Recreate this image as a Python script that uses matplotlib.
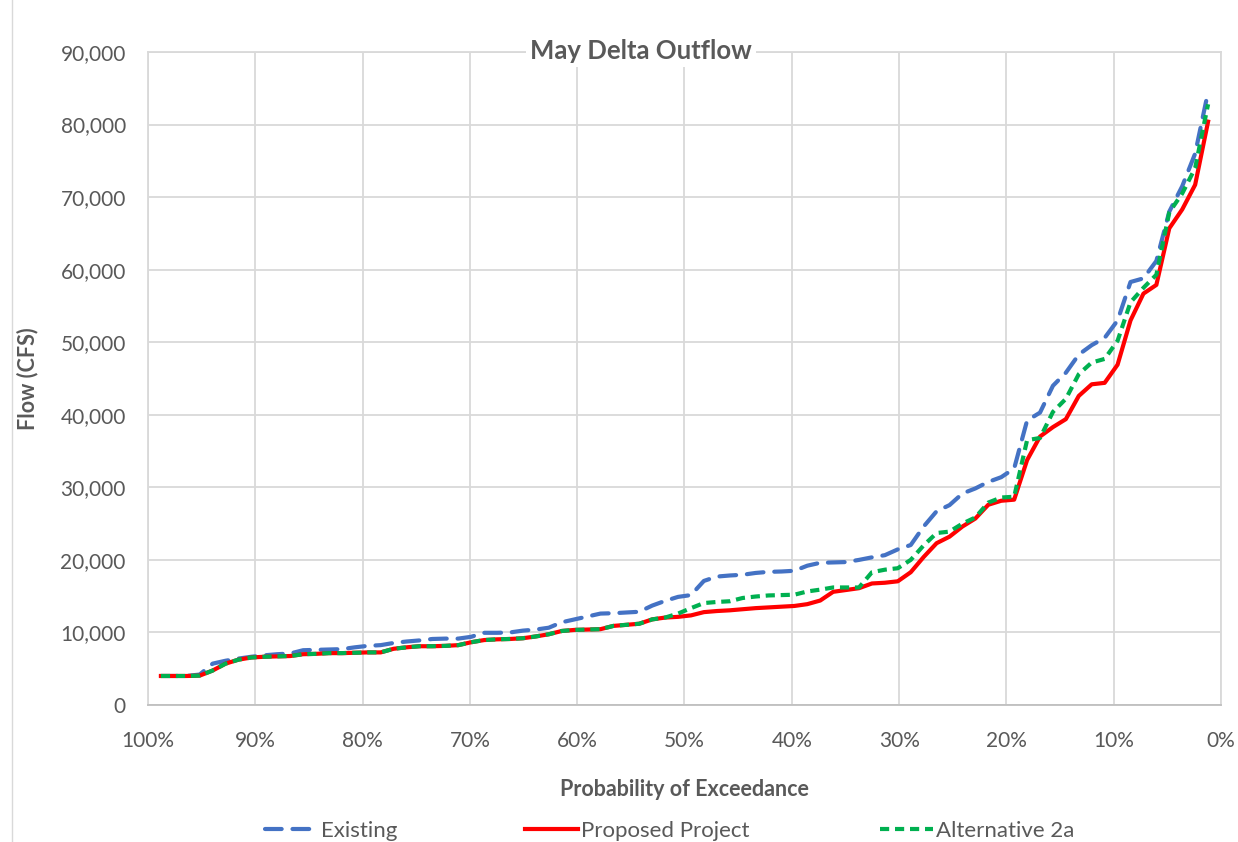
import matplotlib.pyplot as plt
from matplotlib.ticker import FuncFormatter, MultipleLocator
from matplotlib.lines import Line2D

plt.rcParams['font.family'] = ['Lato', 'DejaVu Sans']

# May Delta Outflow (cfs), sorted low -> high
existing = [4000, 4000, 4000, 4200, 5700, 6100, 6400, 6650, 6850, 7000,
            7100, 7550, 7600, 7650, 7700, 7950, 8150, 8250, 8550, 8750,
            8900, 9100, 9150, 9150, 9400, 9950, 9950, 10000, 10250, 10400,
            10650, 11400, 11800, 12200, 12600, 12650, 12750, 12850, 13700, 14350,
            14900, 15150, 17100, 17700, 17850, 17950, 18200, 18350, 18400, 18500,
            19200, 19600, 19650, 19700, 20000, 20350, 20650, 21450, 22050, 24600,
            26700, 27550, 29150, 29850, 30750, 31400, 32600, 39200, 40300, 44000,
            45800, 48300, 49600, 50600, 53000, 58300, 58800, 61200, 68000, 71500,
            76000, 84500]
proposed = [4000, 4000, 4000, 4050, 4750, 5700, 6250, 6550, 6650, 6700,
            6750, 7000, 7050, 7150, 7150, 7200, 7250, 7250, 7750, 7950,
            8100, 8100, 8150, 8250, 8650, 8950, 9050, 9100, 9200, 9450,
            9750, 10200, 10350, 10400, 10450, 10900, 11050, 11200, 11800, 12050,
            12150, 12350, 12800, 12950, 13050, 13200, 13350, 13450, 13550, 13650,
            13900, 14400, 15600, 15850, 16100, 16750, 16850, 17050, 18300, 20400,
            22300, 23200, 24600, 25700, 27600, 28150, 28300, 33750, 37000, 38300,
            39400, 42600, 44200, 44400, 46900, 53000, 56700, 57900, 65700, 68300,
            71700, 80400]
alt2a = [4000, 4000, 4000, 4050, 4750, 5700, 6250, 6550, 6650, 6700,
         6750, 7000, 7050, 7150, 7150, 7200, 7250, 7250, 7750, 7950,
         8100, 8100, 8150, 8250, 8650, 8950, 9050, 9100, 9200, 9450,
         9750, 10200, 10350, 10400, 10450, 10900, 11050, 11200, 11800, 12050,
         12600, 13350, 14050, 14200, 14300, 14750, 14950, 15100, 15150, 15200,
         15650, 15900, 16200, 16200, 16200, 18300, 18650, 18850, 20000, 22000,
         23700, 23900, 25000, 25850, 27900, 28600, 28700, 36500, 36800, 40400,
         42200, 45600, 47200, 47700, 50200, 55500, 57500, 59300, 67900, 70500,
         74000, 82800]


def exceedance(values):
    # plotting position rank/(n+1), highest flow has lowest exceedance
    n = len(values)
    return [100.0 * (n + 1 - r) / (n + 1) for r in range(1, n + 1)]


grey = '#595959'
fig = plt.figure(figsize=(12.38, 8.42), dpi=100)
ax = fig.add_axes([148 / 1238, 1 - 705 / 842, (1221 - 148) / 1238, (705 - 52) / 842])

l1, = ax.plot(exceedance(existing), existing, color='#4472C4', lw=3, dashes=(4, 2.6),
              label='Existing', dash_capstyle='round', zorder=3)
l2, = ax.plot(exceedance(proposed), proposed, color='#FF0000', lw=3,
              label='Proposed Project', zorder=4)
l3, = ax.plot(exceedance(alt2a), alt2a, color='#00B050', lw=3, dashes=(2.2, 1.4),
              label='Alternative 2a', zorder=5)

ax.set_xlim(100, 0)
ax.set_ylim(0, 90000)
ax.xaxis.set_major_locator(MultipleLocator(10))
ax.yaxis.set_major_locator(MultipleLocator(10000))
ax.xaxis.set_major_formatter(FuncFormatter(lambda v, p: '%d%%' % round(v)))
ax.yaxis.set_major_formatter(FuncFormatter(lambda v, p: '{:,.0f}'.format(v)))
ax.grid(True, color='#d9d9d9', lw=1.3)
ax.set_axisbelow(True)
for s in ['top', 'right', 'left']:
    ax.spines[s].set_color('#d9d9d9')
    ax.spines[s].set_linewidth(1.3)
ax.spines['bottom'].set_color('#bfbfbf')
ax.spines['bottom'].set_linewidth(1.3)
ax.tick_params(length=0, labelsize=15, labelcolor=grey)
ax.tick_params(axis='x', pad=19)
ax.tick_params(axis='y', pad=16)

ax.set_xlabel('Probability of Exceedance', fontsize=15.5, fontweight='bold', color=grey, labelpad=20)
ax.set_ylabel('Flow (CFS)', fontsize=15.5, fontweight='bold', color=grey, labelpad=16)

fig.text(641 / 1238, 1 - 51 / 842, 'May Delta Outflow', ha='center', va='center',
         fontsize=18.5, fontweight='bold', color=grey,
         bbox=dict(facecolor='white', edgecolor='none', pad=3))

# three legend entries placed like the original
for h, x0 in [(l1, 265), (l2, 525), (l3, 880)]:
    fig.legend(handles=[h], loc='center left', bbox_to_anchor=(x0 / 1238, 1 - 831 / 842),
               frameon=False, fontsize=16, labelcolor=grey, handlelength=2.4,
               handletextpad=0.1, borderaxespad=0, borderpad=0)

fig.add_artist(Line2D([11.5 / 1238, 11.5 / 1238], [0, 1], transform=fig.transFigure,
                      color='#d9d9d9', lw=1))

fig.savefig('out.png', dpi=100)
